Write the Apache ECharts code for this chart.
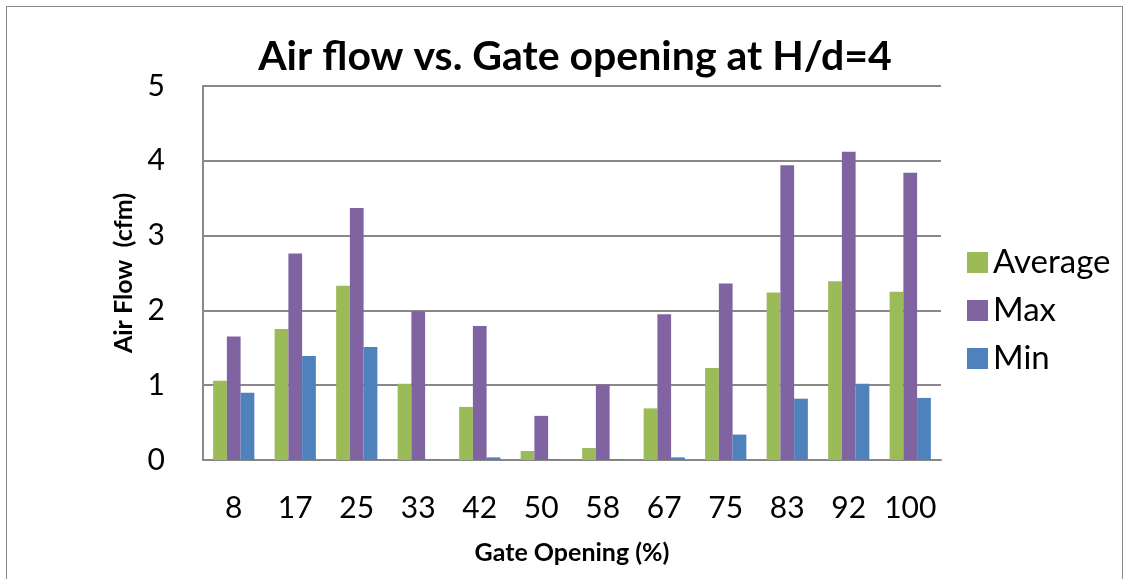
<!DOCTYPE html>
<html><head><meta charset="utf-8">
<script src="https://cdn.jsdelivr.net/npm/echarts@6/dist/echarts.min.js"></script>
<style>html,body{margin:0;padding:0;background:#fff}#c{width:1131px;height:579px}
#frame{position:absolute;left:6px;top:6px;width:1117px;height:580px;border:1.5px solid #8a8a8a;box-sizing:border-box;pointer-events:none}</style>
</head><body><div id="c"></div><div id="frame"></div>
<script>
const categories = ['8','17','25','33','42','50','58','67','75','83','92','100'];
const averageVals = [1.06,1.75,2.33,1.02,0.71,0.12,0.16,0.69,1.23,2.24,2.39,2.25];
const maxVals = [1.65,2.76,3.37,1.99,1.79,0.59,1.01,1.95,2.36,3.94,4.12,3.84];
const minVals = [0.90,1.39,1.51,0.01,0.035,0.01,0.01,0.035,0.34,0.82,1.02,0.83];
const yTicks = [0,1,2,3,4,5];
const FONT = 'Lato, "Open Sans", sans-serif';
const chart = echarts.init(document.getElementById('c'), null, {renderer:'canvas'});
const mk = (name, data, color) => ({name, type:'bar', data, itemStyle:{color}, barGap:'0%', barCategoryGap:'33%'});
chart.setOption({
  animation:false,
  title:{text:'Air flow vs. Gate opening at H/d=4', left:570, top:31,
    textAlign:'center',
    textStyle:{fontFamily:FONT, fontWeight:'bold', fontSize:41, color:'#000'}},
  legend:{orient:'vertical', left:962, top:241, itemWidth:21, itemHeight:21, itemGap:15,
    textStyle:{fontFamily:FONT, fontSize:33, color:'#000'}, icon:'rect',
    data:['Average','Max','Min']},
  grid:{left:203, right:190, top:86, bottom:119, containLabel:false},
  xAxis:{type:'category', data:categories,
    axisLine:{lineStyle:{color:'#888', width:2}}, axisTick:{show:false},
    axisLabel:{fontFamily:FONT, fontSize:30, color:'#000', margin:33, interval:0},
    name:'Gate Opening (%)', nameLocation:'middle', nameGap:80,
    nameTextStyle:{fontFamily:FONT, fontWeight:'bold', fontSize:25, color:'#000'}},
  yAxis:{type:'value', min:0, max:5, interval:1,
    axisLine:{show:true, lineStyle:{color:'#888', width:2}}, axisTick:{show:false},
    splitLine:{lineStyle:{color:'#888', width:2}},
    axisLabel:{fontFamily:FONT, fontSize:30, color:'#000', margin:38,
      formatter:v=>yTicks.includes(v)?String(v):''},
    name:'Air Flow  (cfm)', nameLocation:'middle', nameGap:64, nameRotate:90,
    nameTextStyle:{fontFamily:FONT, fontWeight:'bold', fontSize:25, color:'#000'}},
  series:[mk('Average',averageVals,'#9BBB59'), mk('Max',maxVals,'#8064A2'), mk('Min',minVals,'#4F81BD')]
});
</script></body></html>
